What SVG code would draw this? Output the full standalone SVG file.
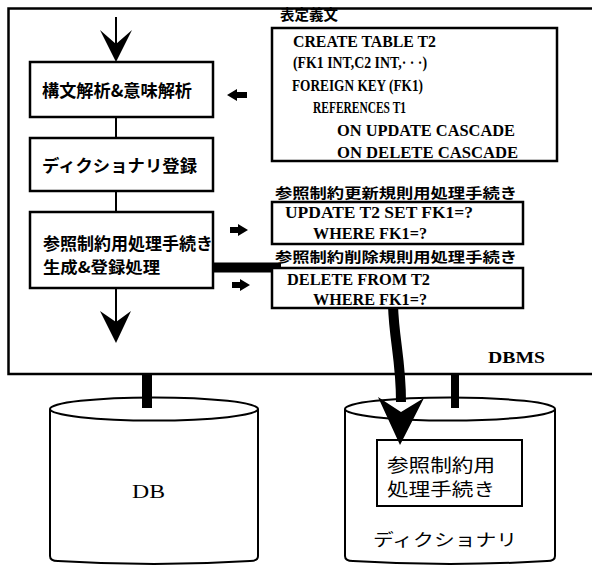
<svg xmlns="http://www.w3.org/2000/svg" width="592" height="567" viewBox="0 0 592 567">
<style>
.box{fill:#fff;stroke:#000;stroke-width:2.5}
.ln{fill:none;stroke:#000;stroke-width:2}
.en{font-family:"Liberation Serif","Times New Roman",serif;font-weight:bold;font-size:16px;fill:#000}
.jb{font-family:"Noto Sans CJK JP","Noto Sans CJK SC",sans-serif;font-weight:bold;fill:#000}
.jr{font-family:"Noto Sans CJK JP","Noto Sans CJK SC",sans-serif;font-weight:normal;fill:#000}
.blk{fill:#000;stroke:none}
</style>
<rect x="0" y="0" width="592" height="567" fill="#fff"/>
<g id="dbms">
  <rect x="8.5" y="8.5" width="600" height="365.5" fill="none" stroke="#000" stroke-width="2.5"/>
  <text class="en" x="488" y="363" font-size="18" textLength="57" lengthAdjust="spacingAndGlyphs">DBMS</text>
</g>
<g id="connectors">
  <line class="ln" x1="116" y1="17" x2="116" y2="44"/>
  <polygon class="blk" points="100,30 116,44 132,30 116,62"/>
  <line class="ln" x1="116" y1="117" x2="116" y2="138"/>
  <line class="ln" x1="116" y1="191" x2="116" y2="212"/>
  <line class="ln" x1="116" y1="288" x2="116" y2="322"/>
  <polygon class="blk" points="100,311 116,322 131,311 116,343"/>
  <polygon class="blk" points="227,95 237,89 237,92 247,92 247,98 237,98 237,101"/>
  <polygon class="blk" points="248,230 238,224 238,227 230,227 230,233 238,233 238,236"/>
  <polygon class="blk" points="250,285 240,279 240,282 232,282 232,288 240,288 240,291"/>
  <path d="M208,267.5 H276 V290 H393 V305 C394,340 401,360 401,402" fill="none" stroke="#000" stroke-width="10"/>
  <rect class="blk" x="142" y="374" width="10" height="34"/>
  <rect class="blk" x="451" y="374" width="8" height="34"/>
</g>
<g id="parse">
  <rect class="box" x="30" y="62" width="183" height="55"/>
  <text class="jb" x="42" y="97" font-size="17" textLength="150" lengthAdjust="spacingAndGlyphs">構文解析&amp;意味解析</text>
</g>
<g id="dictreg">
  <rect class="box" x="30" y="138" width="183" height="53"/>
  <text class="jb" x="42" y="172" font-size="16.5" textLength="155" lengthAdjust="spacingAndGlyphs">ディクショナリ登録</text>
</g>
<g id="gen">
  <rect class="box" x="30" y="212" width="183" height="76"/>
  <text class="jb" x="43" y="250" font-size="17" textLength="170" lengthAdjust="spacingAndGlyphs">参照制約用処理手続き</text>
  <text class="jb" x="43" y="273" font-size="16" textLength="117" lengthAdjust="spacingAndGlyphs">生成&amp;登録処理</text>
</g>
<g id="tabledef">
  <text class="jb" x="280" y="20" font-size="14.5" textLength="58" lengthAdjust="spacingAndGlyphs">表定義文</text>
  <rect class="box" x="272" y="28" width="285" height="133" stroke-width="2"/>
  <text class="en" x="293" y="47" textLength="143" lengthAdjust="spacingAndGlyphs">CREATE TABLE T2</text>
  <text class="en" x="293" y="68" textLength="134" lengthAdjust="spacingAndGlyphs">(FK1 INT,C2 INT,· · ·)</text>
  <text class="en" x="292" y="91" textLength="131" lengthAdjust="spacingAndGlyphs">FOREIGN KEY (FK1)</text>
  <text class="en" x="313" y="113" textLength="93" lengthAdjust="spacingAndGlyphs">REFERENCES T1</text>
  <text class="en" x="337" y="136" textLength="178" lengthAdjust="spacingAndGlyphs">ON UPDATE CASCADE</text>
  <text class="en" x="337" y="158" textLength="181" lengthAdjust="spacingAndGlyphs">ON DELETE CASCADE</text>
</g>
<g id="updproc">
  <text class="jb" x="275" y="198" font-size="14" textLength="242" lengthAdjust="spacingAndGlyphs">参照制約更新規則用処理手続き</text>
  <rect class="box" x="272" y="202" width="251" height="42" stroke-width="2"/>
  <text class="en" x="285" y="218" textLength="188" lengthAdjust="spacingAndGlyphs">UPDATE T2 SET FK1=?</text>
  <text class="en" x="313" y="239" textLength="114" lengthAdjust="spacingAndGlyphs">WHERE FK1=?</text>
</g>
<g id="delproc">
  <text class="jb" x="275" y="262" font-size="14" textLength="242" lengthAdjust="spacingAndGlyphs">参照制約削除規則用処理手続き</text>
  <rect class="box" x="272" y="268" width="251" height="40" stroke-width="2"/>
  <text class="en" x="287" y="285" textLength="143" lengthAdjust="spacingAndGlyphs">DELETE FROM T2</text>
  <text class="en" x="313" y="305" textLength="114" lengthAdjust="spacingAndGlyphs">WHERE FK1=?</text>
</g>
<g id="db">
  <path class="ln" d="M50,409 V556 Q50,561 58,561 Q154,567 250,561 Q258,561 258,556 V409"/>
  <ellipse cx="154" cy="409" rx="104" ry="11.5" fill="none" stroke="#000" stroke-width="2"/>
  <rect class="blk" x="142" y="397" width="10" height="11"/>
  <text x="132" y="498" font-family="Liberation Serif, Times New Roman, serif" font-size="18" textLength="33" lengthAdjust="spacingAndGlyphs" fill="#000">DB</text>
</g>
<g id="dictionary">
  <path class="ln" d="M345,409 V556 Q345,561 353,561 Q450,567 547,561 Q555,561 555,556 V409"/>
  <ellipse cx="450" cy="409" rx="105" ry="11.5" fill="none" stroke="#000" stroke-width="2"/>
  <rect class="blk" x="451" y="397" width="8" height="11"/>
  <rect x="377" y="440" width="145" height="66" fill="#fff" stroke="#000" stroke-width="2"/>
  <text class="jr" x="387" y="472" font-size="18" textLength="108" lengthAdjust="spacingAndGlyphs">参照制約用</text>
  <text class="jr" x="387" y="496" font-size="18" textLength="108" lengthAdjust="spacingAndGlyphs">処理手続き</text>
  <text class="jr" x="373" y="546" font-size="17" textLength="144" lengthAdjust="spacingAndGlyphs">ディクショナリ</text>
</g>
<polygon class="blk" points="378,397 401,412 424,398 400,445"/>
</svg>
